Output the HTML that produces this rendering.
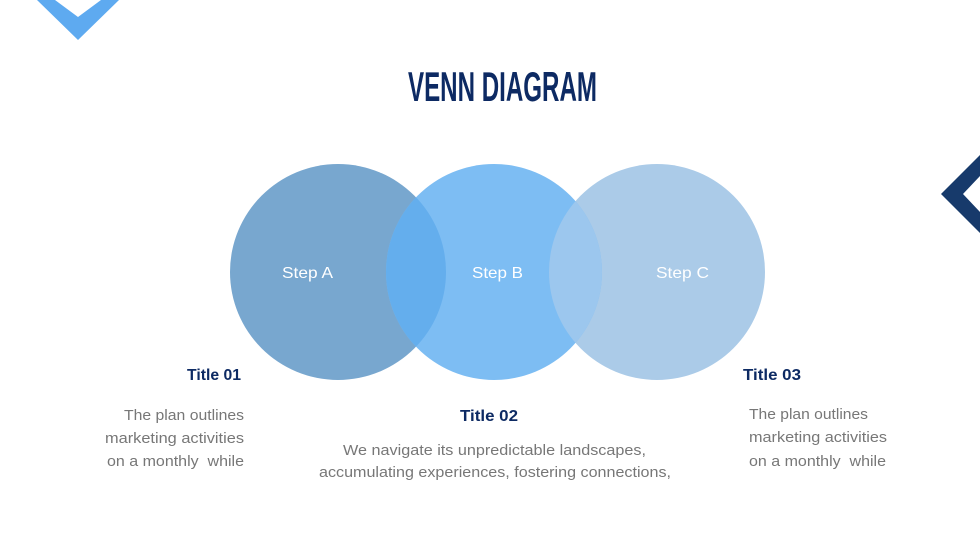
<!DOCTYPE html>
<html><head><meta charset="utf-8"><style>
html,body{margin:0;padding:0;background:#fff;}
svg{display:block;}
</style></head><body>
<svg width="980" height="551" viewBox="0 0 980 551" xmlns="http://www.w3.org/2000/svg" font-family="Liberation Sans, sans-serif">
<defs>
<clipPath id="cA"><circle cx="338" cy="272" r="108"/></clipPath>
<clipPath id="cC"><circle cx="657" cy="272" r="108"/></clipPath>
</defs>
<polygon points="37,0 78,40 119,0 101,0 78,17 55,0" fill="#5eaaf0"/>
<polygon points="980,155 941,194 980,233 980,212 963,194 980,176" fill="#173a6b"/>
<text x="408" y="101" font-size="42" font-weight="bold" fill="#0d2a63" textLength="189" lengthAdjust="spacingAndGlyphs">VENN DIAGRAM</text>
<circle cx="338" cy="272" r="108" fill="#78a7cf"/>
<circle cx="657" cy="272" r="108" fill="#abcbe8"/>
<circle cx="494" cy="272" r="108" fill="#7dbdf3"/>
<circle cx="494" cy="272" r="108" fill="#64aeed" clip-path="url(#cA)"/>
<circle cx="494" cy="272" r="108" fill="#9cc7ee" clip-path="url(#cC)"/>
<g font-size="16" fill="#ffffff">
<text x="282" y="278" textLength="51" lengthAdjust="spacingAndGlyphs">Step A</text>
<text x="472" y="278" textLength="51" lengthAdjust="spacingAndGlyphs">Step B</text>
<text x="656" y="278" textLength="53" lengthAdjust="spacingAndGlyphs">Step C</text>
</g>
<g font-size="16" font-weight="bold" fill="#0d2a63">
<text x="187" y="380" textLength="54" lengthAdjust="spacingAndGlyphs">Title 01</text>
<text x="460" y="421" textLength="58" lengthAdjust="spacingAndGlyphs">Title 02</text>
<text x="743" y="380" textLength="58" lengthAdjust="spacingAndGlyphs">Title 03</text>
</g>
<g font-size="15" fill="#777777">
<text x="124" y="420" textLength="120" lengthAdjust="spacingAndGlyphs">The plan outlines</text>
<text x="105" y="443" textLength="139" lengthAdjust="spacingAndGlyphs">marketing activities</text>
<text x="107" y="466" textLength="137" lengthAdjust="spacingAndGlyphs" xml:space="preserve">on a monthly  while</text>
<text x="749" y="419" textLength="119" lengthAdjust="spacingAndGlyphs">The plan outlines</text>
<text x="749" y="442" textLength="138" lengthAdjust="spacingAndGlyphs">marketing activities</text>
<text x="749" y="466" textLength="137" lengthAdjust="spacingAndGlyphs" xml:space="preserve">on a monthly  while</text>
<text x="343" y="455" textLength="303" lengthAdjust="spacingAndGlyphs">We navigate its unpredictable landscapes,</text>
<text x="319" y="477" textLength="352" lengthAdjust="spacingAndGlyphs">accumulating experiences, fostering connections,</text>
</g>
</svg>
</body></html>
